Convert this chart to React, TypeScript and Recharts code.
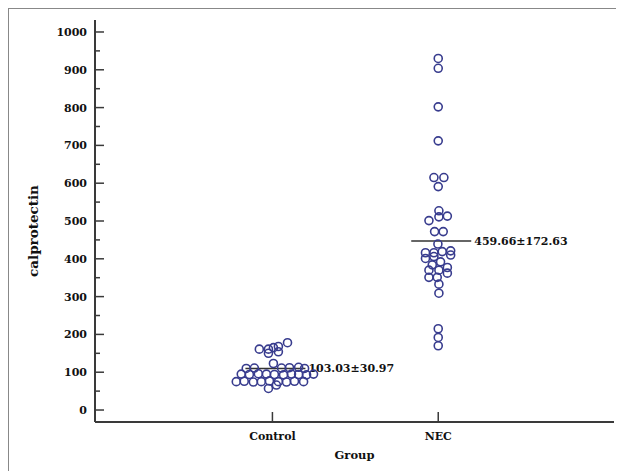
import React from 'react';
import { ScatterChart, Scatter, XAxis, YAxis } from 'recharts';

// Category labels and positions
const groupNames = ['Control', 'NEC'];
const groupPositions = [1, 2];

// Control group: calprotectin values and horizontal jitter (category units)
const controlValues = [161, 161, 165, 168, 178, 150, 154, 123, 110, 111, 111, 112, 113, 110, 95, 94, 96, 95, 94, 93, 95, 94, 93, 95, 75, 76, 74, 75, 77, 75, 74, 76, 75, 66, 57];
const controlJitter = [-0.079, -0.024, 0.006, 0.036, 0.091, -0.024, 0.036, 0.006, -0.158, -0.109, 0.055, 0.103, 0.158, 0.194, -0.188, -0.139, -0.085, -0.036, 0.012, 0.067, 0.115, 0.158, 0.206, 0.248, -0.218, -0.17, -0.115, -0.067, -0.018, 0.036, 0.085, 0.133, 0.188, 0.024, -0.024];

// NEC group
const necValues = [930, 904, 802, 712, 615, 615, 591, 527, 513, 511, 501, 472, 472, 439, 416, 416, 419, 421, 401, 406, 410, 392, 384, 377, 370, 370, 362, 351, 351, 333, 309, 215, 192, 170];
const necJitter = [0, 0, 0, 0, -0.026, 0.034, 0, 0.004, 0.055, 0.004, -0.056, -0.022, 0.03, -0.002, -0.077, -0.026, 0.024, 0.075, -0.077, -0.026, 0.075, 0.014, -0.036, 0.055, -0.056, 0.004, 0.055, -0.056, -0.006, 0.004, 0.004, 0, 0, 0];

// Mean lines (drawn position) and their labels
const meanLevels = [110, 447];
const meanLabels = ['103.03±30.97', '459.66±172.63'];

const yTicks = Array.from({ length: 21 }, (_, i) => i * 50);

const controlData = controlValues.map((v, i) => ({ x: groupPositions[0] + controlJitter[i], y: v }));
const necData = necValues.map((v, i) => ({ x: groupPositions[1] + necJitter[i], y: v }));
const meanData = meanLevels.map((v, i) => ({ x: groupPositions[i], y: v, label: meanLabels[i] }));

const FONT = '"DejaVu Serif", serif';
const POINT = '#383c8e';
const AXIS = '#3a3a3a';
const TEXT = '#111';

const Circle = (props: any) => {
  const { cx, cy } = props;
  if (cx == null || cy == null) return null;
  return <circle cx={cx} cy={cy} r={4} fill="none" stroke={POINT} strokeWidth={1.6} />;
};

const MeanShape = (props: any) => {
  const { cx, cy, payload } = props;
  if (cx == null || cy == null) return null;
  return (
    <g>
      <line x1={cx - 27} x2={cx + 33} y1={cy} y2={cy} stroke="#333" strokeWidth={1.5} />
      <text x={cx + 36} y={cy + 4} fontFamily={FONT} fontWeight="bold" fontSize={11} fill={TEXT}>
        {payload.label}
      </text>
    </g>
  );
};

const YTick = (props: any) => {
  const { x, y, payload } = props;
  const major = payload.value % 100 === 0;
  return (
    <g>
      <line x1={x} x2={x + (major ? 9 : 5)} y1={y} y2={y} stroke={AXIS} strokeWidth={1.5} />
      {major && (
        <text x={x - 8} y={y + 4} textAnchor="end" fontFamily={FONT} fontWeight="bold" fontSize={11} fill={TEXT}>
          {payload.value}
        </text>
      )}
    </g>
  );
};

const XTick = (props: any) => {
  const { x, y, payload } = props;
  const idx = groupPositions.indexOf(payload.value);
  return (
    <g>
      <line x1={x} x2={x} y1={y} y2={y - 10} stroke={AXIS} strokeWidth={1.5} />
      <text x={x} y={y + 18} textAnchor="middle" fontFamily={FONT} fontWeight="bold" fontSize={11} fill={TEXT}>
        {idx >= 0 ? groupNames[idx] : ''}
      </text>
    </g>
  );
};

const YLabel = (props: any) => {
  const { viewBox } = props;
  const cx = viewBox.x + 24;
  const cy = viewBox.y + viewBox.height / 2 + 10;
  return (
    <text x={cx} y={cy} transform={`rotate(-90 ${cx} ${cy})`} textAnchor="middle" dominantBaseline="central" fontFamily={FONT} fontWeight="bold" fontSize={13.5} fill={TEXT}>
      calprotectin
    </text>
  );
};

const XLabel = (props: any) => {
  const { viewBox } = props;
  return (
    <text x={viewBox.x + viewBox.width / 2} y={viewBox.y + 37} textAnchor="middle" fontFamily={FONT} fontWeight="bold" fontSize={11.5} fill={TEXT}>
      Group
    </text>
  );
};

export default function App() {
  return (
    <div style={{ width: 615, height: 462, borderLeft: '1px solid #888', borderTop: '1px solid #888', background: '#fff' }}>
      <ScatterChart width={615} height={462} margin={{ top: 11, right: 10, left: 0, bottom: 0 }}>
        <XAxis
          type="number"
          dataKey="x"
          domain={[-0.07, 3.06]}
          ticks={groupPositions}
          tick={<XTick />}
          tickLine={false}
          tickSize={0}
          tickMargin={0}
          axisLine={{ stroke: AXIS, strokeWidth: 2 }}
          height={49}
          allowDataOverflow
          label={<XLabel />}
        />
        <YAxis
          type="number"
          dataKey="y"
          domain={[-31.7, 1031.7]}
          ticks={yTicks}
          interval={0}
          tick={<YTick />}
          tickLine={false}
          tickSize={0}
          tickMargin={0}
          axisLine={{ stroke: AXIS, strokeWidth: 2 }}
          width={86}
          allowDataOverflow
          label={<YLabel />}
        />
        <Scatter data={meanData} shape={<MeanShape />} isAnimationActive={false} />
        <Scatter data={controlData} shape={<Circle />} isAnimationActive={false} />
        <Scatter data={necData} shape={<Circle />} isAnimationActive={false} />
      </ScatterChart>
    </div>
  );
}
